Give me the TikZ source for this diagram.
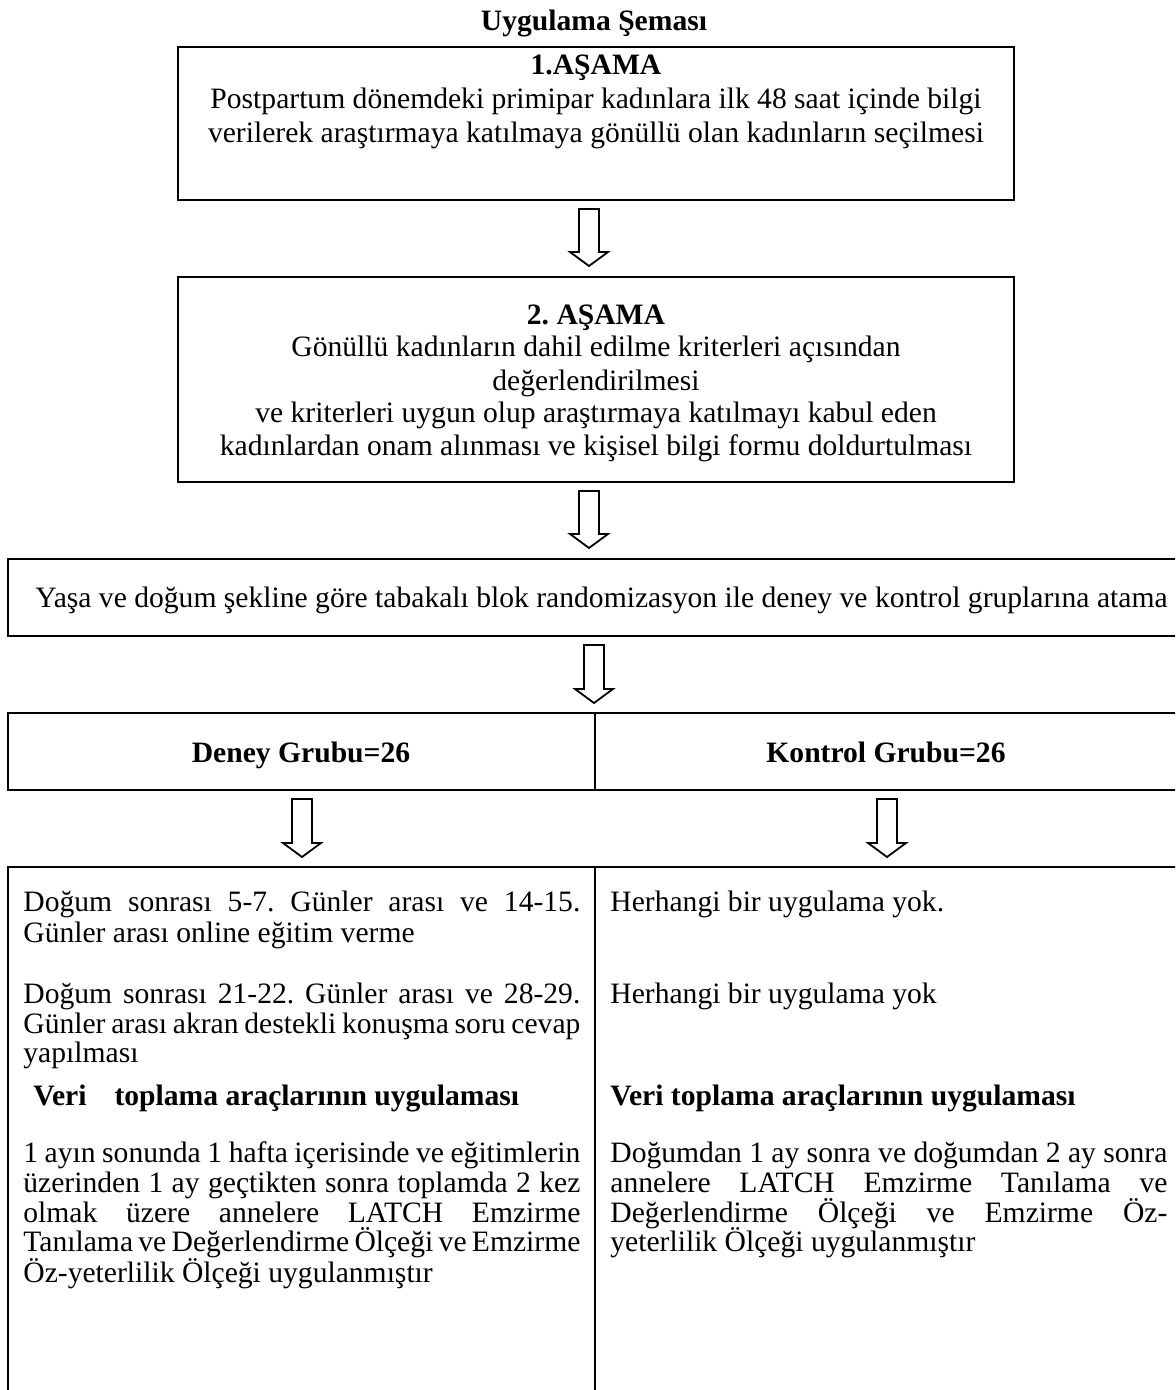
\documentclass[tikz,border=0pt]{standalone}
\usepackage{fontspec}
\setmainfont{Liberation Serif}
\usetikzlibrary{calc}
\frenchspacing
\tikzset{
  box/.style={draw, line width=1.1pt, inner sep=0pt, outer sep=0pt, anchor=north west},
  ln/.style={anchor=base, inner sep=0pt},
  lnl/.style={anchor=base west, inner sep=0pt},
  hollowarrow/.style={draw, line width=0.9pt, fill=white, line join=miter},
}
\newcommand{\blockarrow}[2]{%
  \draw[hollowarrow] let \p1=(#1), \p2=(#2) in
    (\x1-5pt,\y1) -- (\x1+5pt,\y1) -- (\x1+5pt,\y2+7pt) -- (\x1+9.5pt,\y2+7pt)
    -- (\x1,\y2) -- (\x1-9.5pt,\y2+7pt) -- (\x1-5pt,\y2+7pt) -- cycle;}
\newcommand{\js}[2][278.5pt]{\makebox[#1][s]{#2}}
\begin{document}
\begin{tikzpicture}[x=0.5pt,y=-0.5pt,font=\fontsize{14.8pt}{17pt}\selectfont]
\useasboundingbox (0,0) rectangle (1175,1390);
\clip (0,0) rectangle (1175,1390);

% title
\node[ln, font=\fontsize{14.8pt}{17pt}\selectfont\bfseries] (title) at (594,31) {Uygulama Şeması};

% boxes
\node[box, minimum width=418pt, minimum height=76.5pt] (b1) at (178,47) {};
\node[box, minimum width=418pt, minimum height=102.5pt] (b2) at (178,277) {};
\node[box, minimum width=586pt, minimum height=38.5pt] (b3) at (8,559) {};
\node[box, minimum width=293.5pt, minimum height=38.5pt] (b4l) at (8,713) {};
\node[box, minimum width=292.5pt, minimum height=38.5pt] (b4r) at (595,713) {};
\node[box, minimum width=293.5pt, minimum height=270pt] (b5l) at (8,867) {};
\node[box, minimum width=292.5pt, minimum height=270pt] (b5r) at (595,867) {};

% box 1 text
\node[ln] (t1a) at (596,75) {\textbf{1.AŞAMA}};
\node[ln] (t1b) at (596,109) {Postpartum dönemdeki primipar kadınlara ilk 48 saat içinde bilgi};
\node[ln] (t1c) at (596,143) {verilerek araştırmaya katılmaya gönüllü olan kadınların seçilmesi};

% box 2 text
\node[ln] (t2a) at (596,325) {\textbf{2. AŞAMA}};
\node[ln] (t2b) at (596,357) {Gönüllü kadınların dahil edilme kriterleri açısından};
\node[ln] (t2c) at (596,390) {değerlendirilmesi};
\node[ln] (t2d) at (596,422) {ve kriterleri uygun olup araştırmaya katılmayı kabul eden};
\node[ln] (t2e) at (596,455) {kadınlardan onam alınması ve kişisel bilgi formu doldurtulması};

% box 3 text
\node[lnl] (t3) at (35,607) {Yaşa ve doğum şekline göre tabakalı blok randomizasyon ile deney ve kontrol gruplarına atama};

% box 4 text
\node[ln] (t4l) at (301,762) {\textbf{Deney Grubu=26}};
\node[ln] (t4r) at (886,762) {\textbf{Kontrol Grubu=26}};

% box 5 left
\node[lnl] (l1) at (23,911) {\js{Doğum sonrası 5-7. Günler arası ve 14-15.}};
\node[lnl] (l2) at (23,942) {Günler arası online eğitim verme};
\node[lnl] (l3) at (23,1003) {\js{Doğum sonrası 21-22. Günler arası ve 28-29.}};
\node[lnl] (l4) at (23,1033) {\js{Günler arası akran destekli konuşma soru cevap}};
\node[lnl] (l5) at (23,1062) {yapılması};
\node[lnl] (l6) at (33,1105) {\textbf{Veri\hspace{14pt}toplama araçlarının uygulaması}};
\node[lnl] (l7) at (23,1162) {\js{1 ayın sonunda 1 hafta içerisinde ve eğitimlerin}};
\node[lnl] (l8) at (23,1192) {\js{üzerinden 1 ay geçtikten sonra toplamda 2 kez}};
\node[lnl] (l9) at (23,1222) {\js{olmak üzere annelere LATCH Emzirme}};
\node[lnl] (l10) at (23,1251) {\js{Tanılama ve Değerlendirme Ölçeği ve Emzirme}};
\node[lnl] (l11) at (23,1282) {Öz-yeterlilik Ölçeği uygulanmıştır};

% box 5 right
\node[lnl] (r1) at (610,911) {Herhangi bir uygulama yok.};
\node[lnl] (r2) at (610,1003) {Herhangi bir uygulama yok};
\node[lnl] (r3) at (610,1105) {\textbf{Veri toplama araçlarının uygulaması}};
\node[lnl] (r4) at (610,1162) {\js{Doğumdan 1 ay sonra ve doğumdan 2 ay sonra}};
\node[lnl] (r5) at (610,1192) {\js{annelere LATCH Emzirme Tanılama ve}};
\node[lnl] (r6) at (610,1222) {\js{Değerlendirme Ölçeği ve Emzirme Öz-}};
\node[lnl] (r7) at (610,1251) {yeterlilik Ölçeği uygulanmıştır};

% arrows
\coordinate (a1s) at (589,209); \coordinate (a1e) at (589,266);
\coordinate (a2s) at (589,491); \coordinate (a2e) at (589,548);
\coordinate (a3s) at (594,645); \coordinate (a3e) at (594,703);
\coordinate (a4s) at (302,799); \coordinate (a4e) at (302,857);
\coordinate (a5s) at (887,799); \coordinate (a5e) at (887,857);
\blockarrow{a1s}{a1e}
\blockarrow{a2s}{a2e}
\blockarrow{a3s}{a3e}
\blockarrow{a4s}{a4e}
\blockarrow{a5s}{a5e}
\end{tikzpicture}
\end{document}
